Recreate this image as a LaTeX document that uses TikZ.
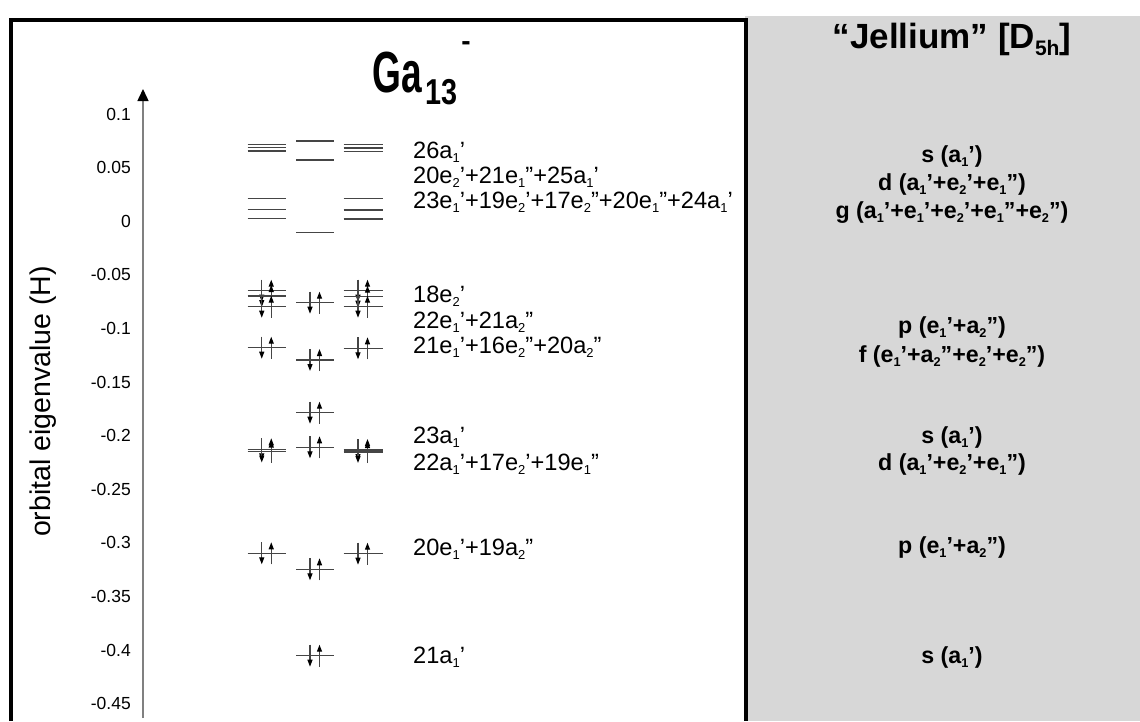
\documentclass[tikz,border=0pt]{standalone}
\usepackage{fontspec}
\usepackage{graphicx}
\setmainfont{Liberation Sans}
\usetikzlibrary{arrows.meta}
\definecolor{panelgrey}{HTML}{D7D7D7}
\definecolor{levelgrey}{HTML}{454545}
\definecolor{axisgrey}{HTML}{808080}
% small, low-set irrep index
\newcommand\lb[1]{\raisebox{-0.2em}{\scalebox{0.55}{#1}}}
% one energy level: x from, x to, y
\newcommand\lev[3]{\draw[level] (#1,#3) -- (#2,#3);}
% electron pair (down, up) on a level: centre x, y
\newcommand\epair[2]{%
  \draw[spin] (#1-5,#2-11) -- (#1-5,#2+11);
  \draw[spin] (#1+4.5,#2+11) -- (#1+4.5,#2-11);}
% the three columns of levels
\newcommand\levL[1]{\lev{247.5}{286}{#1}}
\newcommand\levM[1]{\lev{296}{334}{#1}}
\newcommand\levR[1]{\lev{343.5}{382.5}{#1}}
\newcommand\occL[1]{\levL{#1}\epair{266.75}{#1}}
\newcommand\occM[1]{\levM{#1}\epair{315}{#1}}
\newcommand\occR[1]{\levR{#1}\epair{363}{#1}}
\begin{document}
\begin{tikzpicture}[x=1pt,y=-1pt,
  level/.style={draw=levelgrey, line width=1.4pt},
  spin/.style={draw=levelgrey, line width=1.2pt, -{Triangle[width=5pt,length=7pt,color=black]}},
  lvtext/.style={font=\fontsize{23.6}{24}\selectfont, anchor=base west, inner sep=0pt},
  jtext/.style={font=\bfseries\fontsize{23.2}{24}\selectfont, anchor=base, inner sep=0pt},
  ticklab/.style={font=\fontsize{17.5}{18}\selectfont, anchor=base east, inner sep=0pt},
  axisline/.style={draw=axisgrey, line width=1.5pt, -{Triangle[width=11pt,length=12pt,color=black]}},
  frameline/.style={draw=black, line width=4pt, line join=miter}]
\useasboundingbox (0,0) rectangle (1140,721);
\fill[white] (0,0) rectangle (1140,721);

% jellium panel and the frame of the cluster panel
\fill[panelgrey] (745,16) rectangle (1140,721);
\draw[frameline] (10.5,721) -- (10.5,19.5) -- (745.5,19.5) -- (745.5,721);

% titles
\node[anchor=base west, inner sep=0pt, font=\bfseries\fontsize{58}{58}\selectfont] (ga) at (372,92) {\scalebox{0.64}[1]{Ga}};
\node[anchor=base west, inner sep=0pt, font=\bfseries\fontsize{36}{36}\selectfont] (ga13) at (425,104) {\scalebox{0.8}[1]{13}};
\node[inner sep=0pt, font=\bfseries\fontsize{28}{28}\selectfont] (gaminus) at (466,46) {-};
\node[anchor=base, inner sep=0pt, font=\bfseries\fontsize{35}{35}\selectfont] (jel) at (952,48) {“Jellium” [D\raisebox{-0.2em}{\scalebox{0.6}{5h}}]};

% energy axis
\coordinate (axbot) at (143,718);
\coordinate (axtop) at (143,89);
\draw[axisline] (axbot) -- (axtop);
\foreach \i/\t in {-2/0.1,-1/0.05,0/0,1/-0.05,2/-0.1,3/-0.15,4/-0.2,5/-0.25,6/-0.3,7/-0.35,8/-0.4,9/-0.45}
  \node[ticklab] (tick\i) at (131,227.3+53.6*\i) {\t};
\node[rotate=90, font=\fontsize{28.5}{29}\selectfont] (ylab) at (43,401.5) {orbital eigenvalue (H)};

% unoccupied levels
\levL{144.3}\levL{147.7}\levL{151}
\levM{141}\levM{160}
\levR{144.7}\levR{148}\levR{151.7}
\levL{198.3}\levL{209.3}\levL{218.7}
\levM{232.3}
\levR{198.7}\levR{210}\levR{219}

% occupied levels
\occL{290.7}\occL{296}\occL{306.7}
\occM{302.7}
\occR{290.7}\occR{296.7}\occR{306.7}
\occL{347.7}\occM{360}\occR{348.3}
\occM{412.7}
\occL{449.3}\occL{451.5}\occM{447.3}\occR{450}\occR{452}
\occL{553.3}\occM{569.3}\occR{553.7}
\occM{655.7}

% orbital labels
\node[lvtext] (o1) at (413,158) {26a\lb{1}’};
\node[lvtext] (o2) at (413,183) {20e\lb{2}’+21e\lb{1}”+25a\lb{1}’};
\node[lvtext] (o3) at (413,208) {23e\lb{1}’+19e\lb{2}’+17e\lb{2}”+20e\lb{1}”+24a\lb{1}’};
\node[lvtext] (o4) at (413,302) {18e\lb{2}’};
\node[lvtext] (o5) at (413,328) {22e\lb{1}’+21a\lb{2}”};
\node[lvtext] (o6) at (413,353) {21e\lb{1}’+16e\lb{2}”+20a\lb{2}”};
\node[lvtext] (o7) at (413,443) {23a\lb{1}’};
\node[lvtext] (o8) at (413,470) {22a\lb{1}’+17e\lb{2}’+19e\lb{1}”};
\node[lvtext] (o9) at (413,555) {20e\lb{1}’+19a\lb{2}”};
\node[lvtext] (o10) at (413,663) {21a\lb{1}’};

% jellium shells
\node[jtext] (j1) at (952,162) {s (a\lb{1}’)};
\node[jtext] (j2) at (952,190) {d (a\lb{1}’+e\lb{2}’+e\lb{1}”)};
\node[jtext] (j3) at (952,218) {g (a\lb{1}’+e\lb{1}’+e\lb{2}’+e\lb{1}”+e\lb{2}”)};
\node[jtext] (j4) at (952,333) {p (e\lb{1}’+a\lb{2}”)};
\node[jtext] (j5) at (952,362) {f (e\lb{1}’+a\lb{2}”+e\lb{2}’+e\lb{2}”)};
\node[jtext] (j6) at (952,443) {s (a\lb{1}’)};
\node[jtext] (j7) at (952,470) {d (a\lb{1}’+e\lb{2}’+e\lb{1}”)};
\node[jtext] (j8) at (952,553) {p (e\lb{1}’+a\lb{2}”)};
\node[jtext] (j9) at (952,663) {s (a\lb{1}’)};
\end{tikzpicture}
\end{document}
